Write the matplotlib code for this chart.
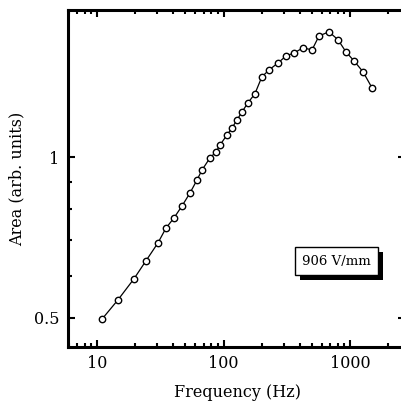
import numpy as np
import matplotlib
matplotlib.use("Agg")
import matplotlib.pyplot as plt
import matplotlib.patheffects as pe
from matplotlib.ticker import FixedLocator, NullFormatter, LogLocator

# frequency (Hz) and area (arb. units)
freq = [11, 14.6, 19.6, 24.4, 30.3, 35.1, 40.6, 47, 54.4, 61.7, 67.6, 78.2,
        87.3, 93.8, 106.6, 116.8, 127.9, 140, 156, 177, 201, 229, 270, 312,
        361, 425, 501, 569, 682, 804, 929, 1076, 1268, 1493]
area = [0.498, 0.540, 0.592, 0.640, 0.691, 0.737, 0.770, 0.811, 0.858, 0.907,
        0.947, 0.998, 1.024, 1.055, 1.102, 1.136, 1.176, 1.217, 1.266, 1.316,
        1.416, 1.459, 1.504, 1.550, 1.570, 1.605, 1.591, 1.690, 1.720, 1.662,
        1.577, 1.517, 1.447, 1.350]

ytick_vals = [0.5, 1]
ytick_labels = ["0.5", "1"]
xtick_vals = [10, 100, 1000]
xtick_labels = ["10", "100", "1000"]
label_text = "906 V/mm"

plt.rcParams['font.family'] = ['DejaVu Serif']

fig = plt.figure(figsize=(4.02, 4.07), dpi=100)
ax = fig.add_axes([68 / 402, 1 - 347 / 407, 337 / 402, 337 / 407])

ax.plot(freq, area, '-', color='black', lw=0.9,
        marker='o', ms=4.6, mfc='white', mec='black', mew=1.0)

ax.set_xscale('log')
ax.set_yscale('log')
ax.set_xlim(5.9, 2720)
ax.set_ylim(0.441, 1.89)

ax.xaxis.set_major_locator(FixedLocator(xtick_vals))
ax.set_xticklabels(xtick_labels)
ax.xaxis.set_minor_locator(LogLocator(base=10, subs=np.arange(2, 10)))
ax.xaxis.set_minor_formatter(NullFormatter())

ax.yaxis.set_major_locator(FixedLocator(ytick_vals))
ax.set_yticklabels(ytick_labels)
ax.yaxis.set_minor_locator(FixedLocator([0.6, 0.7, 0.8, 0.9]))
ax.yaxis.set_minor_formatter(NullFormatter())

ax.tick_params(which='both', direction='in', top=True, right=True,
               labelsize=11.5, width=1.5)
ax.tick_params(which='major', length=5, pad=6)
ax.tick_params(which='minor', length=3)

for s in ax.spines.values():
    s.set_linewidth(2.2)

ax.set_xlabel("Frequency (Hz)", fontsize=11.5)
ax.set_ylabel("Area (arb. units)", fontsize=11.5)
ax.xaxis.set_label_coords(0.502, -0.11)
ax.yaxis.set_label_coords(-0.125, 0.5)

ax.text(0.797, 0.255, label_text, transform=ax.transAxes, fontsize=9.5,
        ha='center', va='center',
        bbox=dict(boxstyle='square,pad=0.55', fc='white', ec='black', lw=1,
                  path_effects=[pe.SimplePatchShadow(offset=(3.5, -3.5),
                                                     shadow_rgbFace='black',
                                                     alpha=1),
                                pe.Normal()]))

fig.savefig("out.png", dpi=100)
